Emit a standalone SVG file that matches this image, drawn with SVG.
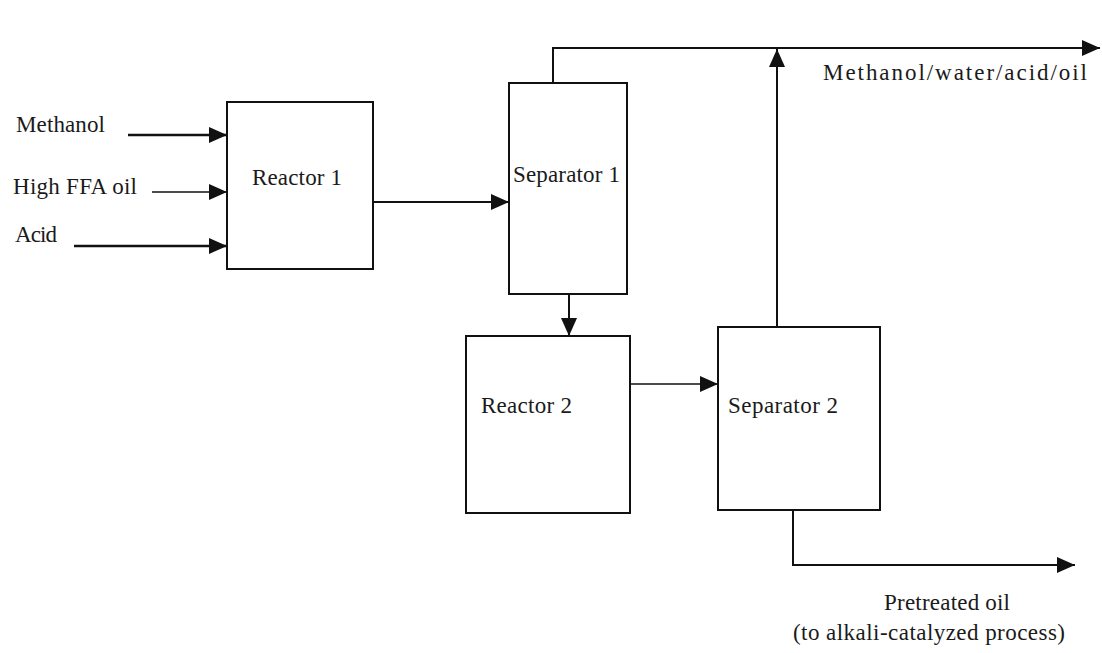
<svg xmlns="http://www.w3.org/2000/svg" width="1102" height="653" viewBox="0 0 1102 653">
<style>
.box{fill:#fff;stroke:#111;stroke-width:2}
.ln{fill:none;stroke:#111;stroke-width:2}
.thin{stroke-width:1.5}
.thick{stroke-width:2.5}
text{font-family:"Liberation Serif","Times New Roman",serif;font-size:23px;fill:#1a1a1a}
</style>
<defs>
<marker id="ah" viewBox="0 0 18 16" refX="18" refY="8" markerWidth="18" markerHeight="16" markerUnits="userSpaceOnUse" orient="auto">
<path d="M0,0 L18,8 L0,16 Z" fill="#111"/>
</marker>
</defs>
<rect width="1102" height="653" fill="#fff"/>
<g id="connectors">
<line class="ln thick" x1="128" y1="135" x2="227" y2="135" marker-end="url(#ah)"/>
<line class="ln thin" x1="152" y1="192" x2="227" y2="192" marker-end="url(#ah)"/>
<line class="ln thick" x1="74" y1="246" x2="227" y2="246" marker-end="url(#ah)"/>
<line class="ln" x1="373" y1="202" x2="509" y2="202" marker-end="url(#ah)"/>
<polyline class="ln" points="553,83 553,48 1100,48" marker-end="url(#ah)"/>
<line class="ln" x1="569" y1="294" x2="569" y2="336" marker-end="url(#ah)"/>
<line class="ln thin" x1="630" y1="384" x2="718" y2="384" marker-end="url(#ah)"/>
<line class="ln" x1="777" y1="327" x2="777" y2="49" marker-end="url(#ah)"/>
<polyline class="ln" points="793,510 793,565 1075,565" marker-end="url(#ah)"/>
</g>
<g id="reactor1">
<rect class="box" x="227" y="102" width="146" height="167"/>
<text x="252" y="185" textLength="90">Reactor 1</text>
</g>
<g id="separator1">
<rect class="box" x="509" y="83" width="118" height="211"/>
<text x="513" y="182" textLength="107">Separator 1</text>
</g>
<g id="reactor2">
<rect class="box" x="466" y="336" width="164" height="177"/>
<text x="481" y="413" textLength="91">Reactor 2</text>
</g>
<g id="separator2">
<rect class="box" x="718" y="327" width="162" height="183"/>
<text x="728" y="413" textLength="110">Separator 2</text>
</g>
<g id="labels">
<text x="16" y="132" textLength="89">Methanol</text>
<text x="13" y="194" textLength="124">High FFA oil</text>
<text x="15" y="242" textLength="42">Acid</text>
<text x="823" y="80" textLength="264">Methanol/water/acid/oil</text>
<text x="884" y="610" textLength="126">Pretreated oil</text>
<text x="793" y="640" textLength="272">(to alkali-catalyzed process)</text>
</g>
</svg>
